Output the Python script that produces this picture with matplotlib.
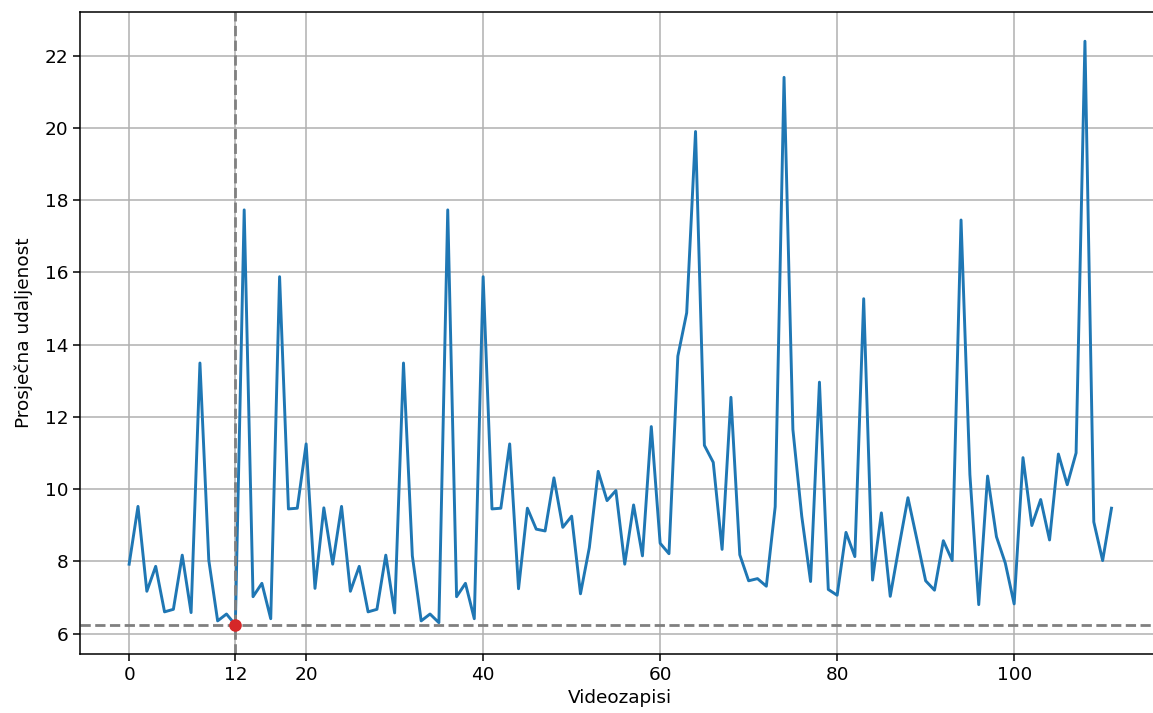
import numpy as np
import matplotlib.pyplot as plt


# average distance per video clip
avg_dist = [
	7.92, 9.52, 7.17, 7.86, 6.60, 6.67, 8.17, 6.58, 13.49, 8.03,
	6.35, 6.54, 6.24, 17.73, 7.02, 7.39, 6.41, 15.88, 9.45, 9.47,
	11.25, 7.25, 9.48, 7.92, 9.52, 7.17, 7.86, 6.60, 6.67, 8.17,
	6.57, 13.49, 8.15, 6.35, 6.54, 6.30, 17.73, 7.02, 7.39, 6.41,
	15.88, 9.45, 9.47, 11.25, 7.24, 9.47, 8.89, 8.84, 10.31, 8.94,
	9.25, 7.10, 8.38, 10.49, 9.68, 9.96, 7.92, 9.56, 8.15, 11.73,
	8.50, 8.21, 13.68, 14.88, 19.90, 11.21, 10.74, 8.33, 12.54, 8.18,
	7.46, 7.52, 7.31, 9.51, 21.40, 11.65, 9.25, 7.44, 12.96, 7.22,
	7.06, 8.80, 8.13, 15.27, 7.48, 9.34, 7.03, 8.42, 9.76, 8.62,
	7.46, 7.20, 8.57, 8.02, 17.45, 10.40, 6.80, 10.36, 8.68, 7.95,
	6.82, 10.87, 8.99, 9.71, 8.59, 10.97, 10.12, 11.00, 22.40, 9.09,
	8.02, 9.47,
]
base_ticks = [0, 20, 40, 60, 80, 100]
y_ticks = [6, 8, 10, 12, 14, 16, 18, 20, 22]

vals = np.asarray(avg_dist)
idx = np.arange(len(vals))
i_min = int(np.argmin(vals))

plt.rcParams['font.size'] = 13.3

fig = plt.figure(figsize=(11.53, 7.13), dpi=100)
ax = fig.add_axes([0.0694, 0.0827, 0.9372, 0.9004])

ax.plot(idx, vals, color='tab:blue', lw=2.1)
ax.axhline(vals[i_min], color='gray', ls='--', lw=2.0)
ax.axvline(i_min, color='gray', ls='--', lw=2.0)
ax.scatter([i_min], [vals[i_min]], color='tab:red', s=65, zorder=5)

ax.set_xticks(sorted(base_ticks + [i_min]))
ax.set_yticks(y_ticks)
ax.tick_params(length=5, width=1.1)
ax.grid(True, color='#b0b0b0', lw=1.1)
for sp in ax.spines.values():
	sp.set_linewidth(1.1)
# right edge of the frame falls outside the saved image
ax.spines['right'].set_visible(False)

ax.set_xlabel('Videozapisi', labelpad=4)
ax.set_ylabel('Prosječna udaljenost', labelpad=8)

fig.savefig('out.png', dpi=100)
